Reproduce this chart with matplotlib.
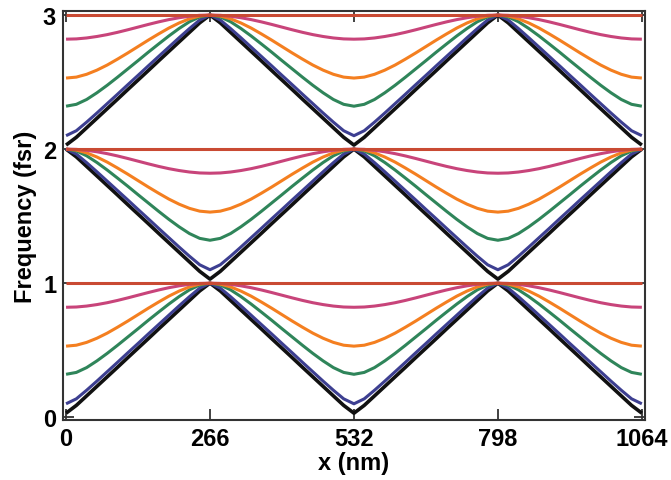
import numpy as np
import matplotlib
matplotlib.use("Agg")
import matplotlib.pyplot as plt

# x positions (nm) for half a period, 0..266 in 19 nm steps
x_half = np.arange(0, 267, 19)

# band profile over half a period (min at x=0, touches 1 at x=266)
black_half = [0.030, 0.088, 0.159, 0.230, 0.301, 0.372, 0.444, 0.515,
              0.586, 0.658, 0.729, 0.800, 0.871, 0.942, 1.000]
blue_half = [0.100, 0.137, 0.201, 0.269, 0.339, 0.409, 0.480, 0.550,
             0.621, 0.691, 0.761, 0.831, 0.899, 0.963, 1.000]
green_half = [0.320, 0.334, 0.370, 0.420, 0.476, 0.536, 0.598, 0.660,
              0.723, 0.784, 0.844, 0.900, 0.950, 0.986, 1.000]
orange_half = [0.530, 0.537, 0.558, 0.589, 0.627, 0.671, 0.717, 0.765,
               0.813, 0.859, 0.903, 0.941, 0.972, 0.993, 1.000]
pink_half = [0.820, 0.822, 0.829, 0.840, 0.854, 0.871, 0.890, 0.910,
             0.930, 0.949, 0.966, 0.980, 0.991, 0.998, 1.000]
red_half = [1.0] * 15

colors = ["#111111", "#3d3f91", "#2f855a", "#f47f20", "#c8447a", "#c94a33"]
widths = [2.6, 2.2, 2.2, 2.2, 2.2, 2.2]
profiles = [black_half, blue_half, green_half, orange_half, pink_half, red_half]

x_ticks = [0, 266, 532, 798, 1064]
y_ticks = [0, 1, 2, 3]

n = len(x_half) - 1  # steps per half period
x_full = np.arange(0, 1064 + 1, 19)

plt.rcParams['font.family'] = ['Liberation Sans', 'DejaVu Sans']
plt.rcParams['font.weight'] = 'bold'

fig = plt.figure(figsize=(6.71, 4.81), dpi=100)
ax = fig.add_axes([0.094, 0.125, 0.867, 0.850])

for prof, c, lw in zip(profiles, colors, widths):
    half = np.array(prof)
    period = np.concatenate([half, half[-2::-1]])
    longer = np.concatenate([period, period[1:], period[1:]])
    band0 = longer[0:len(x_full)]
    band1 = 1 + longer[n:n + len(x_full)]
    band2 = 2 + longer[0:len(x_full)]
    for b in (band0, band1, band2):
        ax.plot(x_full, b, color=c, lw=lw, solid_capstyle='butt')

ax.set_xlim(-5.5, 1069.5)
ax.set_ylim(-0.02, 3.03)
ax.set_xticks(x_ticks)
ax.set_yticks(y_ticks)
ax.tick_params(direction='in', length=8, width=1.3, color='#333333',
               top=True, right=True, labelsize=17, pad=5)
for s in ax.spines.values():
    s.set_color('#333333')
    s.set_linewidth(1.5)

ax.set_xlabel("x (nm)", fontsize=17, fontweight='bold', labelpad=1)
ax.set_ylabel("Frequency (fsr)", fontsize=17, fontweight='bold', labelpad=4)

fig.savefig("out.png", dpi=100)
